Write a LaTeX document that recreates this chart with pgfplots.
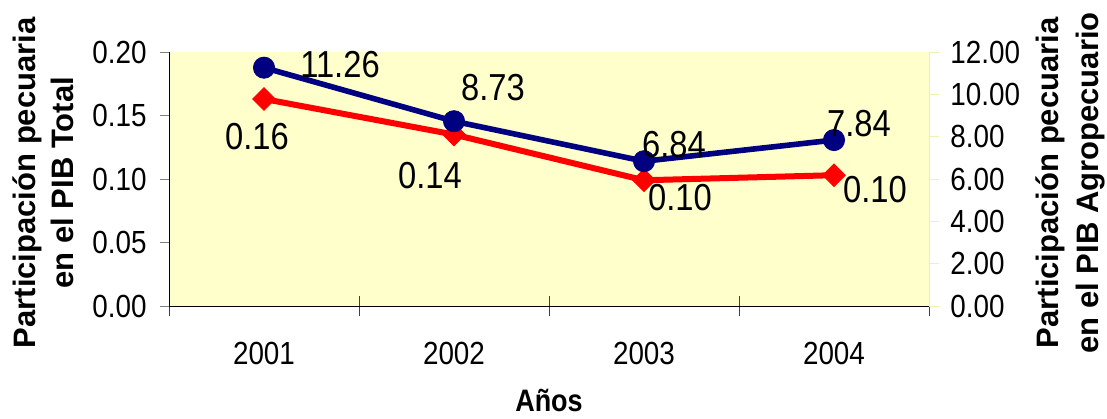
\documentclass[border=0pt]{standalone}
\usepackage{fontspec}
\setmainfont{Liberation Sans}
\newfontfamily\narrowfont[FakeStretch=0.87]{Liberation Sans}
\usepackage{pgfplots}
\pgfplotsset{compat=1.18}
\definecolor{plotbg}{HTML}{FFFFCC}
\definecolor{navy}{HTML}{000080}
\definecolor{axisyellow}{HTML}{F0F0B4}

\pgfplotsset{
  common/.style={
    width=380pt, height=127pt, scale only axis,
    xmin=-0.5, xmax=3.5,
    clip=false,
    /pgf/number format/assume math mode=true,
    tick label style={font=\narrowfont\fontsize{16}{16}\selectfont},
    yticklabel style={/pgf/number format/fixed,
      /pgf/number format/fixed zerofill, /pgf/number format/precision=2},
    tick align=outside,
    major tick length=4.5pt,
  },
  labels/.style={
    nodes near coords={\pgfmathprintnumber[fixed,fixed zerofill,precision=2,assume math mode=true]{\pgfplotspointmeta}},
    point meta=y,
    visualization depends on={\thisrow{dx}\as\dx},
    visualization depends on={\thisrow{dy}\as\dy},
    every node near coord/.append style={anchor=center, inner sep=0pt,
      xshift=\dx pt, yshift=\dy pt, text=black,
      font=\narrowfont\fontsize{18.8}{18.8}\selectfont},
  },
}

\begin{document}
\begin{tikzpicture}
\useasboundingbox (-84.5pt,-56pt) rectangle (469pt,153pt);

% left axis: total GDP share (red)
\begin{axis}[common,
  ymin=0, ymax=0.2,
  ytick={0,0.05,0.1,0.15,0.2},
  axis background/.style={fill=plotbg},
  axis x line*=bottom, axis y line*=left,
  xtick={0,1,2,3}, xticklabels={2001,2002,2003,2004},
  every major x tick/.append style={draw=none},
  minor xtick={-0.5,0.5,1.5,2.5,3.5},
  minor tick length=10pt,
  every minor x tick/.append style={yshift=5pt, black!75},
  xticklabel style={anchor=base, yshift=-24.5pt},
  yticklabel style={anchor=east, inner sep=0pt, xshift=-6.5pt},
  xlabel={Años},
  xlabel style={at={(axis description cs:0.5,-0.415)}, anchor=base,
    font=\narrowfont\bfseries\fontsize{15.5}{15.5}\selectfont},
  ylabel={Participación pecuaria\\en el PIB Total},
  ylabel style={at={(axis description cs:-0.166,0.485)}, anchor=center,
    align=center, font=\bfseries\fontsize{15.5}{19}\selectfont},
]
\addplot[red, line width=3pt, mark=square*,
  mark options={rotate=45, solid, fill=red, line width=0.4pt},
  mark size=4pt, labels] table {
x y dx dy
0 0.163 -3.5 -19
1 0.135 -12 -20.5
2 0.099 18 -8.5
3 0.103 20.5 -7
};
\end{axis}

% right axis: agricultural GDP share (blue)
\begin{axis}[common,
  ymin=0, ymax=12,
  ytick={0,2,4,6,8,10,12},
  axis x line=none, axis y line*=right,
  y axis line style={draw=axisyellow},
  ytick style={draw=axisyellow},
  major tick length=5pt,
  yticklabel style={anchor=west, inner sep=0pt, xshift=5.5pt},
  ylabel={Participación pecuaria\\en el PIB Agropecuario},
  ylabel style={at={(axis description cs:1.1855,0.485)}, anchor=center,
    rotate=0, align=center, font=\bfseries\fontsize{15.5}{20}\selectfont},
]
\addplot[navy, line width=2.8pt, mark=*,
  mark options={solid, fill=navy, line width=0.4pt},
  mark size=5.3pt, labels] table {
x y dx dy
0 11.26 38 1.5
1 8.73 19.5 17
2 6.84 15 8.5
3 7.84 12.5 8.5
};
\end{axis}
\end{tikzpicture}
\end{document}
